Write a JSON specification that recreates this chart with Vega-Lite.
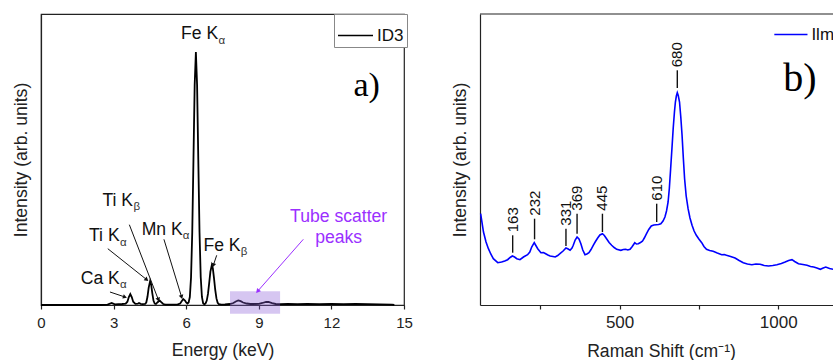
{
  "$schema": "https://vega.github.io/schema/vega-lite/v6.json",
  "padding": {"left": 11, "top": 12, "right": 0, "bottom": 0},
  "autosize": {"type": "pad"},
  "bounds": "flush",
  "spacing": 76,
  "config": {
    "font": "Liberation Sans",
    "view": {"stroke": "#222222", "strokeWidth": 1.2},
    "axis": {"grid": false, "domainColor": "#222222", "domainWidth": 1.2, "tickColor": "#222222", "tickWidth": 1.2, "labelColor": "#222222", "titleColor": "#222222", "titleFontWeight": "normal", "labelFont": "Liberation Sans", "titleFont": "Liberation Sans", "titleFontSize": 17.6}
  },
  "resolve": {"scale": {"color": "independent", "x": "independent", "y": "independent"}, "legend": {"color": "independent"}},
  "hconcat": [
    {
      "width": 363,
      "height": 291,
      "layer": [
        {
          "data": {"values": [
            {"x":0,"y":0},{"x":2.5,"y":0},{"x":2.75,"y":0.4},{"x":2.92,"y":2},{"x":3.05,"y":0.6},{"x":3.2,"y":0.8},{"x":3.35,"y":1},{"x":3.5,"y":1.3},{"x":3.57,"y":3.3},{"x":3.63,"y":7.9},{"x":3.69,"y":11},{"x":3.75,"y":7.9},{"x":3.81,"y":3.3},{"x":3.9,"y":1.2},{"x":4.0,"y":1.3},{"x":4.05,"y":2},{"x":4.12,"y":1.2},{"x":4.2,"y":0.8},{"x":4.3,"y":1},{"x":4.35,"y":2.5},{"x":4.4,"y":8.2},{"x":4.45,"y":17.4},{"x":4.51,"y":24},{"x":4.55,"y":20.8},{"x":4.6,"y":11.7},{"x":4.65,"y":4.2},{"x":4.7,"y":1.5},{"x":4.75,"y":1},{"x":4.82,"y":2.8},{"x":4.9,"y":4.5},{"x":4.97,"y":2.8},{"x":5.05,"y":1},{"x":5.15,"y":0.4},{"x":5.3,"y":0.3},{"x":5.5,"y":0.4},{"x":5.65,"y":0.6},{"x":5.75,"y":1.5},{"x":5.82,"y":4},{"x":5.88,"y":6},{"x":5.95,"y":4.5},{"x":6.0,"y":2.5},{"x":6.05,"y":1.5},{"x":6.1,"y":2.5},{"x":6.15,"y":8},{"x":6.2,"y":27.6},{"x":6.25,"y":72.7},{"x":6.3,"y":145.4},{"x":6.35,"y":220},{"x":6.4,"y":253},{"x":6.45,"y":220},{"x":6.5,"y":145},{"x":6.55,"y":73},{"x":6.6,"y":28},{"x":6.65,"y":8},{"x":6.7,"y":1.8},{"x":6.75,"y":0.6},{"x":6.8,"y":1.6},{"x":6.85,"y":4.4},{"x":6.9,"y":11.1},{"x":6.95,"y":21.8},{"x":7.0,"y":33.4},{"x":7.06,"y":40},{"x":7.1,"y":36.9},{"x":7.15,"y":26.7},{"x":7.2,"y":15},{"x":7.25,"y":6.6},{"x":7.3,"y":2.2},{"x":7.35,"y":0.8},{"x":7.45,"y":0.3},{"x":7.6,"y":0.5},{"x":7.8,"y":1},{"x":7.95,"y":2},{"x":8.05,"y":3.5},{"x":8.15,"y":4.5},{"x":8.25,"y":3.8},{"x":8.35,"y":2.5},{"x":8.5,"y":1.5},{"x":8.65,"y":1},{"x":8.8,"y":1},{"x":9.0,"y":1.2},{"x":9.15,"y":2},{"x":9.3,"y":3.2},{"x":9.4,"y":3},{"x":9.55,"y":1.8},{"x":9.7,"y":1},{"x":9.9,"y":0.8},{"x":10.2,"y":1},{"x":10.6,"y":0.8},{"x":11.0,"y":1.2},{"x":11.5,"y":0.9},{"x":12.0,"y":1.1},{"x":12.5,"y":0.9},{"x":13.0,"y":1},{"x":13.5,"y":0.8},{"x":14.0,"y":0.6},{"x":14.5,"y":0.4},{"x":14.6,"y":0}
          ]},
          "mark": {"type": "line", "strokeWidth": 1.8},
          "encoding": {
            "x": {"field": "x", "type": "quantitative", "scale": {"domain": [0, 15], "nice": false}, "axis": {"values": [0, 3, 6, 9, 12, 15], "format": "d", "tickSize": 4, "labelFontSize": 15, "labelPadding": 6, "labelFlush": false, "title": "Energy (keV)", "titlePadding": 11}},
            "y": {"field": "y", "type": "quantitative", "scale": {"domain": [0, 291], "nice": false}, "axis": {"labels": false, "ticks": false, "title": "Intensity (arb. units)", "titlePadding": 11}},
            "color": {"datum": "ID3", "type": "nominal", "scale": {"range": ["#000000"]}, "legend": {"orient": "none", "legendX": 293, "legendY": 0, "title": null, "symbolType": "stroke", "symbolSize": 1225, "symbolStrokeWidth": 1.5, "labelFontSize": 17, "labelColor": "#111111", "labelOffset": 3, "padding": 3, "strokeColor": "#888888", "fillColor": "#ffffff"}}
          }
        },
        {
          "data": {"values": [{"x": 7.81, "x2": 9.88, "y": 13.7, "y2": -8.7}]},
          "mark": {"type": "rect", "fill": "#8a5cd8", "opacity": 0.35},
          "encoding": {
            "x": {"field": "x", "type": "quantitative"},
            "x2": {"field": "x2"},
            "y": {"field": "y", "type": "quantitative"},
            "y2": {"field": "y2"}
          }
        },
        {
          "data": {"values": [
            {"x": 2.85, "y": 13, "x2": 3.47, "y2": 8},
            {"x": 2.76, "y": 56.3, "x2": 4.37, "y2": 25.3},
            {"x": 3.65, "y": 80.3, "x2": 4.85, "y2": 5.3},
            {"x": 5.08, "y": 65.7, "x2": 5.81, "y2": 8},
            {"x": 7.26, "y": 49.7, "x2": 7.12, "y2": 39.7}
          ]},
          "mark": {"type": "rule", "color": "#111111", "strokeWidth": 1},
          "encoding": {
            "x": {"field": "x", "type": "quantitative"},
            "x2": {"field": "x2"},
            "y": {"field": "y", "type": "quantitative"},
            "y2": {"field": "y2"}
          }
        },
        {
          "data": {"values": [
            {"x": 3.47, "y": 8, "a": 108},
            {"x": 4.37, "y": 25.3, "a": 128},
            {"x": 4.85, "y": 5.3, "a": 162},
            {"x": 5.81, "y": 8, "a": 163},
            {"x": 7.12, "y": 39.7, "a": 198}
          ]},
          "mark": {"type": "point", "shape": "triangle-up", "filled": true, "color": "#111111", "opacity": 1, "size": 22},
          "encoding": {
            "x": {"field": "x", "type": "quantitative"},
            "y": {"field": "y", "type": "quantitative"},
            "angle": {"field": "a", "type": "quantitative", "scale": null}
          }
        },
        {
          "data": {"values": [{"x": 10.84, "y": 65.7, "x2": 8.95, "y2": 13.7}]},
          "mark": {"type": "rule", "color": "#9b30ff", "strokeWidth": 1},
          "encoding": {
            "x": {"field": "x", "type": "quantitative"},
            "x2": {"field": "x2"},
            "y": {"field": "y", "type": "quantitative"},
            "y2": {"field": "y2"}
          }
        },
        {
          "data": {"values": [{"x": 8.95, "y": 13.7, "a": 221}]},
          "mark": {"type": "point", "shape": "triangle-up", "filled": true, "color": "#9b30ff", "opacity": 1, "size": 26},
          "encoding": {
            "x": {"field": "x", "type": "quantitative"},
            "y": {"field": "y", "type": "quantitative"},
            "angle": {"field": "a", "type": "quantitative", "scale": null}
          }
        },
        {
          "data": {"values": [
            {"x": 5.785, "y": 265.7, "t": "Fe K"},
            {"x": 2.537, "y": 99.3, "t": "Ti K"},
            {"x": 1.983, "y": 63.7, "t": "Ti K"},
            {"x": 4.161, "y": 70.3, "t": "Mn K"},
            {"x": 6.71, "y": 53.7, "t": "Fe K"},
            {"x": 1.64, "y": 21.3, "t": "Ca K"}
          ]},
          "mark": {"type": "text", "align": "left", "baseline": "alphabetic", "fontSize": 17.6, "color": "#111111", "font": "Liberation Sans"},
          "encoding": {
            "x": {"field": "x", "type": "quantitative"},
            "y": {"field": "y", "type": "quantitative"},
            "text": {"field": "t"}
          }
        },
        {
          "data": {"values": [
            {"x": 7.33, "y": 261.3, "t": "α"},
            {"x": 3.818, "y": 94.7, "t": "β"},
            {"x": 3.264, "y": 59, "t": "α"},
            {"x": 5.855, "y": 65.7, "t": "α"},
            {"x": 8.25, "y": 50.3, "t": "β"},
            {"x": 3.264, "y": 17, "t": "α"}
          ]},
          "mark": {"type": "text", "align": "left", "baseline": "alphabetic", "fontSize": 11.5, "color": "#333333", "font": "Liberation Sans"},
          "encoding": {
            "x": {"field": "x", "type": "quantitative"},
            "y": {"field": "y", "type": "quantitative"},
            "text": {"field": "t"}
          }
        },
        {
          "data": {"values": [
            {"x": 12.3, "y": 83, "t": "Tube scatter"},
            {"x": 12.3, "y": 62.3, "t": "peaks"}
          ]},
          "mark": {"type": "text", "align": "center", "baseline": "alphabetic", "fontSize": 17.6, "color": "#9b30ff", "font": "Liberation Sans"},
          "encoding": {
            "x": {"field": "x", "type": "quantitative"},
            "y": {"field": "y", "type": "quantitative"},
            "text": {"field": "t"}
          }
        },
        {
          "data": {"values": [{"x": 12.91, "y": 209, "t": "a)"}]},
          "mark": {"type": "text", "align": "left", "baseline": "alphabetic", "fontSize": 34, "color": "#000000", "font": "Liberation Serif"},
          "encoding": {
            "x": {"field": "x", "type": "quantitative"},
            "y": {"field": "y", "type": "quantitative"},
            "text": {"field": "t"}
          }
        }
      ]
    },
    {
      "width": 354,
      "height": 291,
      "view": {"stroke": null},
      "layer": [
        {
          "data": {"values": [
            {"x":62,"y":91.3},{"x":71,"y":73},{"x":79,"y":63},{"x":86.5,"y":56.3},{"x":94,"y":51},{"x":102,"y":46.3},{"x":116,"y":42.3},{"x":128,"y":43},{"x":138,"y":44},{"x":147,"y":45.3},{"x":155,"y":47.5},{"x":162,"y":49},{"x":169,"y":48},{"x":176,"y":46.3},{"x":186,"y":45.3},{"x":197,"y":48},{"x":210,"y":50.3},{"x":217,"y":53},{"x":223,"y":58},{"x":231,"y":62.3},{"x":237,"y":59},{"x":242,"y":56.3},{"x":252,"y":52.3},{"x":260,"y":52.5},{"x":267,"y":51.3},{"x":274,"y":50},{"x":281,"y":49},{"x":290,"y":48.5},{"x":297,"y":48},{"x":305,"y":49.5},{"x":312,"y":51.3},{"x":322,"y":54},{"x":331,"y":57},{"x":338,"y":56},{"x":344,"y":54.7},{"x":350,"y":57},{"x":354,"y":59.7},{"x":360,"y":65},{"x":366,"y":68},{"x":372,"y":66},{"x":378,"y":61.3},{"x":384,"y":55},{"x":391,"y":50.3},{"x":397,"y":51},{"x":403.5,"y":52.3},{"x":410,"y":55.5},{"x":417,"y":59.7},{"x":424,"y":63.5},{"x":431,"y":67},{"x":438,"y":70},{"x":446,"y":71.3},{"x":452,"y":69.5},{"x":459,"y":66.3},{"x":467,"y":62.5},{"x":475,"y":59.7},{"x":483,"y":57.5},{"x":491,"y":55.7},{"x":504,"y":54.7},{"x":512,"y":55.5},{"x":519,"y":55.7},{"x":526,"y":55},{"x":533,"y":55.7},{"x":540,"y":58.5},{"x":548,"y":62.3},{"x":553,"y":61},{"x":559,"y":61.3},{"x":566,"y":62.5},{"x":572,"y":63.7},{"x":578,"y":67},{"x":585,"y":71.3},{"x":592,"y":75.5},{"x":600,"y":79},{"x":608,"y":80},{"x":616,"y":80.3},{"x":623,"y":80.5},{"x":630,"y":81.3},{"x":637,"y":84},{"x":643,"y":88},{"x":648,"y":94},{"x":653,"y":103},{"x":657,"y":117},{"x":661,"y":136.3},{"x":665,"y":156},{"x":669,"y":176.3},{"x":673,"y":193},{"x":676,"y":203},{"x":679,"y":209},{"x":682,"y":212.3},{"x":685,"y":209.5},{"x":689,"y":203},{"x":693,"y":188},{"x":697,"y":169.7},{"x":701,"y":147},{"x":705,"y":126.3},{"x":710,"y":109},{"x":716,"y":96.3},{"x":722,"y":87},{"x":728.5,"y":79.7},{"x":735,"y":74},{"x":742,"y":69.7},{"x":750,"y":66},{"x":759,"y":62.3},{"x":766,"y":58.5},{"x":774,"y":55.7},{"x":784,"y":54.5},{"x":795,"y":53.7},{"x":808,"y":52},{"x":822,"y":50.3},{"x":830,"y":50.5},{"x":837,"y":49.7},{"x":850,"y":48.5},{"x":864,"y":47},{"x":877,"y":44.5},{"x":890,"y":42.3},{"x":903,"y":41},{"x":917,"y":40.3},{"x":930,"y":41},{"x":943,"y":40.7},{"x":956,"y":39.5},{"x":969.5,"y":39},{"x":983,"y":39.5},{"x":996,"y":40.3},{"x":1010,"y":41.5},{"x":1022,"y":43},{"x":1033,"y":44.5},{"x":1043.5,"y":45.3},{"x":1052,"y":43.5},{"x":1064,"y":41.3},{"x":1078,"y":40.5},{"x":1091,"y":39.7},{"x":1102,"y":38.5},{"x":1112,"y":38},{"x":1122,"y":37},{"x":1133,"y":35.7},{"x":1142,"y":37},{"x":1150,"y":38},{"x":1162,"y":36.5},{"x":1174,"y":35.7}
          ]},
          "mark": {"type": "line", "strokeWidth": 1.6},
          "encoding": {
            "x": {"field": "x", "type": "quantitative", "scale": {"domain": [60, 1176], "nice": false}, "axis": {"values": [250, 500, 750, 1000], "format": "d", "labelExpr": "datum.value % 500 === 0 ? datum.label : ''", "tickSize": 4, "labelFontSize": 17, "labelPadding": 5, "title": "Raman Shift (cm⁻¹)", "titlePadding": 12, "titleX": 181}},
            "y": {"field": "y", "type": "quantitative", "scale": {"domain": [0, 291], "nice": false}, "axis": {"labels": false, "ticks": false, "title": "Intensity (arb. units)", "titlePadding": 11}},
            "color": {"datum": "Ilm", "type": "nominal", "scale": {"range": ["#0000ff"]}, "legend": {"orient": "none", "legendX": 290.4, "legendY": 0, "title": null, "symbolType": "stroke", "symbolSize": 1100, "symbolStrokeWidth": 1.5, "labelFontSize": 17, "labelColor": "#111111", "labelOffset": 3, "padding": 3}}
          }
        },
        {
          "data": {"values": [{"y": 291}]},
          "mark": {"type": "rule", "color": "#222222", "strokeWidth": 1.2},
          "encoding": {
            "y": {"field": "y", "type": "quantitative"}
          }
        },
        {
          "data": {"values": [
            {"x": 163, "y": 52.3, "y2": 69.7, "t": "163"},
            {"x": 232, "y": 65.7, "y2": 86.3, "t": "232"},
            {"x": 331, "y": 59, "y2": 76.3, "t": "331"},
            {"x": 366, "y": 71.3, "y2": 91.3, "t": "369"},
            {"x": 446, "y": 73, "y2": 91.3, "t": "445"},
            {"x": 617, "y": 83, "y2": 101.3, "t": "610"},
            {"x": 682, "y": 217, "y2": 234.7, "t": "680"}
          ]},
          "layer": [
            {
              "mark": {"type": "rule", "color": "#111111", "strokeWidth": 1.4},
              "encoding": {
                "x": {"field": "x", "type": "quantitative"},
                "y": {"field": "y", "type": "quantitative"},
                "y2": {"field": "y2"}
              }
            },
            {
              "mark": {"type": "text", "angle": 270, "align": "left", "baseline": "middle", "dx": 3, "fontSize": 15, "color": "#111111", "font": "Liberation Sans"},
              "encoding": {
                "x": {"field": "x", "type": "quantitative"},
                "y": {"field": "y2", "type": "quantitative"},
                "text": {"field": "t"}
              }
            }
          ]
        },
        {
          "data": {"values": [{"x": 1016, "y": 213.7, "t": "b)"}]},
          "mark": {"type": "text", "align": "left", "baseline": "alphabetic", "fontSize": 40, "color": "#000000", "font": "Liberation Serif"},
          "encoding": {
            "x": {"field": "x", "type": "quantitative"},
            "y": {"field": "y", "type": "quantitative"},
            "text": {"field": "t"}
          }
        }
      ]
    }
  ]
}
